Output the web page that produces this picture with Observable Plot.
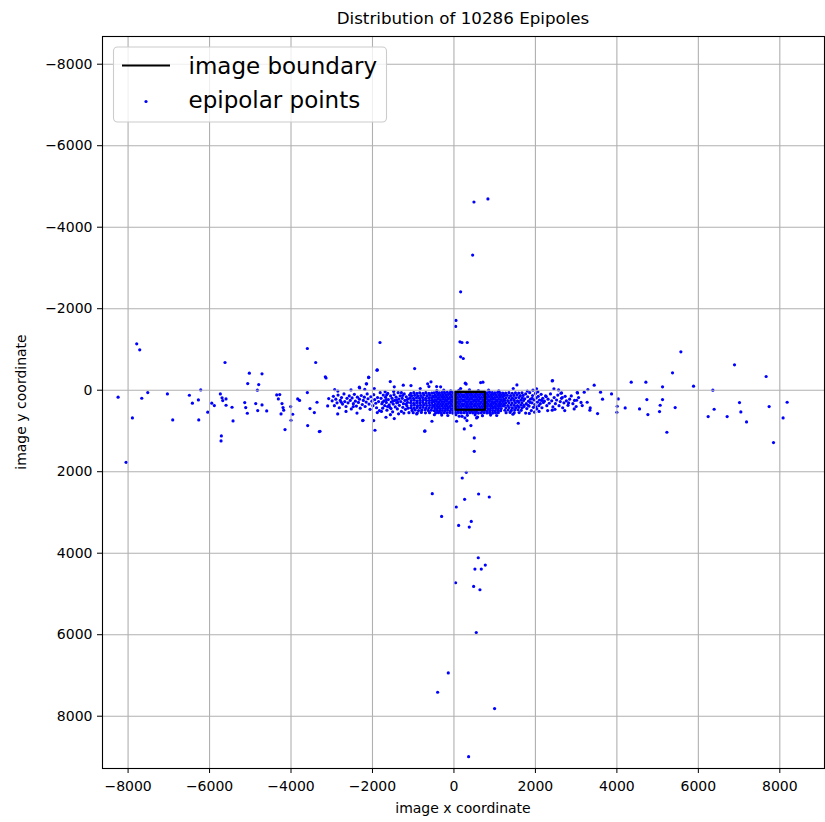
<!DOCTYPE html>
<html>
<head>
<meta charset="utf-8">
<script src="https://cdn.jsdelivr.net/npm/d3@7"></script>
<script src="https://cdn.jsdelivr.net/npm/@observablehq/plot@0.6"></script>
<style>
  body { margin: 0; background: white; }
  #wrap { position: relative; width: 825px; height: 822px; font-family: "DejaVu Sans", sans-serif; background: white; }
  #chart { position: absolute; left: 0; top: 35px; }
  #overlay { position: absolute; left: 0; top: 0; pointer-events: none; }
</style>
</head>
<body>
<div id="wrap">
  <div id="chart"></div>
  <svg id="overlay" width="825" height="822" xmlns="http://www.w3.org/2000/svg"></svg>
</div>
<script>
const titleText = "Distribution of 10286 Epipoles";
const xLabel = "image x coordinate";
const yLabel = "image y coordinate";
const legendLabels = ["image boundary", "epipolar points"];

const xTicks = [-8000, -6000, -4000, -2000, 0, 2000, 4000, 6000, 8000];
const yTicks = [-8000, -6000, -4000, -2000, 0, 2000, 4000, 6000, 8000];

// image boundary rectangle
const boundaryX = [40, 760, 760, 40, 40];
const boundaryY = [40, 40, 480, 480, 40];

// epipole positions [x, y]
const farLeft = [[-7788,-1138],[-7714,-990],[-8245,172],[-7664,197],[-7517,57],[-7894,680],[-8049,1769],[-7035,90],[-6904,729],[-6495,123],[-6421,319],[-6274,238],[-6216,-8],[-6265,729],[-6044,540],[-5946,319],[-5882,377],[-5735,90],[-5693,188],[-5676,254],[-5595,213],[-5595,369],[-5620,-680],[-5710,1122],[-5718,1245],[-5448,418],[-5423,754],[-5136,303],[-5112,426],[-5072,565],[-5063,-164],[-5023,-418],[-4866,328],[-4826,0],[-4793,-139],[-4712,-401],[-4712,361],[-4818,500],[-4597,508],[-4351,115],[-4277,107],[-4311,213],[-4221,328],[-4196,426],[-4180,491],[-4245,581],[-4147,966],[-4008,401],[-4000,737],[-3959,590],[-3836,213],[-3790,250],[-3599,-1024],[-3591,868],[-3394,-680],[-3305,1015],[-3599,57],[-3534,450],[-3427,548],[-3362,295],[-3158,-328],[-3140,-300],[-3100,385],[-3075,205],[-3288,1007]];

const nearLeft = [[-2990,260],[-2960,150],[-2935,380],[-2900,220],[-2870,310],[-2845,120],[-2815,430],[-2790,250],[-2760,180],[-2735,340],[-2700,90],[-2680,280],[-2650,400],[-2625,200],[-2600,310],[-2570,140],[-2545,250],[-2520,460],[-2500,190],[-2470,330],[-2445,100],[-2420,270],[-2395,390],[-2370,170],[-2345,300],[-2320,220],[-2300,440],[-2275,130],[-2250,350],[-2225,250],[-2200,170],[-2180,400],[-2155,290],[-2130,90],[-2110,210],[-2085,340],[-2060,470],[-2040,160],[-2015,270],[-1990,380],[-1970,110],[-1945,230],[-1920,320],[-1900,430],[-1875,180],[-1850,280],[-1830,500],[-1810,60],[-2650,520],[-2380,560],[-2190,-20],[-2850,20],[-2928,-16],[-2528,-8],[-2854,581],[-2765,295],[-2471,401],[-2315,-57],[-2233,737],[-2152,-156],[-2094,-311]];

const bandLeft = [[-1790,200],[-1770,330],[-1750,440],[-1735,120],[-1715,260],[-1700,380],[-1680,170],[-1660,300],[-1645,490],[-1625,80],[-1610,230],[-1590,360],[-1575,420],[-1555,140],[-1540,290],[-1520,200],[-1505,530],[-1490,340],[-1470,110],[-1455,250],[-1440,410],[-1420,170],[-1405,310],[-1390,460],[-1370,60],[-1355,220],[-1340,370],[-1320,140],[-1305,280],[-1290,520],[-1270,200],[-1255,420],[-1240,330],[-1220,90],[-1205,250],[-1190,470],[-1170,160],[-1155,380],[-1140,300],[-1120,210],[-1105,550],[-1090,120],[-1780,520],[-1690,40],[-1560,600],[-1480,30],[-1360,580],[-1230,560],[-1130,440],[-1660,230],[-1545,450],[-1410,240],[-1290,60],[-1180,340],[-1750,290],[-1630,400],[-1500,270],[-1380,300],[-1260,130],[-1150,230]];

const bandMidLeft = [[-1060,75],[-985,60],[-910,80],[-840,65],[-760,75],[-690,60],[-615,80],[-545,70],
[-1040,135],[-965,125],[-890,140],[-815,130],[-740,120],[-665,135],[-590,125],[-520,140],
[-1070,190],[-995,200],[-920,185],[-845,195],[-770,180],[-695,200],[-620,190],[-550,185],
[-1050,255],[-975,245],[-900,260],[-825,250],[-750,240],[-675,255],[-600,250],[-530,245],
[-1065,310],[-990,320],[-915,305],[-840,315],[-765,300],[-690,320],[-615,310],[-545,305],
[-1045,375],[-970,365],[-895,380],[-820,370],[-745,360],[-670,375],[-595,370],[-525,365],
[-1060,430],[-985,440],[-910,425],[-835,435],[-760,420],[-685,440],[-610,430],[-540,425],
[-1030,495],[-950,485],[-870,500],[-790,490],[-710,480],[-630,495],[-555,490],
[-1000,550],[-900,560],[-800,545],[-700,555],[-600,550]];

const core = [[-490,62],[-425,55],[-360,65],[-295,58],[-230,60],[-165,52],[-100,66],[-35,58],[30,55],[95,64],[160,58],[225,50],[290,62],[355,57],[420,65],[485,55],[550,60],[615,52],[680,63],[745,58],[810,66],[875,55],[940,60],[1005,65],[1070,56],[1135,62],[1200,70],
[-460,118],[-395,110],[-330,120],[-265,112],[-200,116],[-135,108],[-70,120],[-5,114],[60,110],[125,118],[190,112],[255,120],[320,110],[385,116],[450,112],[515,120],[580,114],[645,108],[710,118],[775,112],[840,120],[905,114],[970,110],[1035,118],[1100,112],[1165,120],[1230,115],
[-500,172],[-430,165],[-365,175],[-300,168],[-235,170],[-170,162],[-105,176],[-40,168],[25,165],[90,174],[155,168],[220,160],[285,172],[350,167],[415,175],[480,165],[545,170],[610,162],[675,173],[740,168],[805,176],[870,165],[935,170],[1000,175],[1065,166],[1130,172],[1195,168],
[-465,228],[-400,220],[-335,230],[-270,222],[-205,226],[-140,218],[-75,230],[-10,224],[55,220],[120,228],[185,222],[250,230],[315,220],[380,226],[445,222],[510,230],[575,224],[640,218],[705,228],[770,222],[835,230],[900,224],[965,220],[1030,228],[1095,222],[1160,230],[1225,226],
[-495,282],[-430,275],[-365,285],[-300,278],[-235,280],[-170,272],[-105,286],[-40,278],[25,275],[90,284],[155,278],[220,270],[285,282],[350,277],[415,285],[480,275],[545,280],[610,272],[675,283],[740,278],[805,286],[870,275],[935,280],[1000,285],[1065,276],[1130,282],[1195,278],
[-460,338],[-395,330],[-330,340],[-265,332],[-200,336],[-135,328],[-70,340],[-5,334],[60,330],[125,338],[190,332],[255,340],[320,330],[385,336],[450,332],[515,340],[580,334],[645,328],[710,338],[775,332],[840,340],[905,334],[970,330],[1035,338],[1100,332],[1165,340],[1230,336],
[-490,392],[-425,385],[-360,395],[-295,388],[-230,390],[-165,382],[-100,396],[-35,388],[30,385],[95,394],[160,388],[225,380],[290,392],[355,387],[420,395],[485,385],[550,390],[615,382],[680,393],[745,388],[810,396],[875,385],[940,390],[1005,395],[1070,386],[1135,392],[1200,388],
[-465,448],[-400,440],[-335,450],[-270,442],[-205,446],[-140,438],[-75,450],[-10,444],[55,440],[120,448],[185,442],[250,450],[315,440],[380,446],[445,442],[510,450],[575,444],[640,438],[705,448],[770,442],[835,450],[900,444],[965,440],[1030,448],[1095,442],[1160,450],
[-480,502],[-415,495],[-350,505],[-285,498],[-220,500],[-155,492],[-90,506],[-25,498],[40,495],[105,504],[170,498],[235,490],[300,502],[365,497],[430,505],[495,495],[560,500],[625,492],[690,503],[755,498],[820,506],[885,495],[950,500],[1015,505],[1080,496],[1145,502],
[-450,558],[-380,550],[-310,562],[-240,552],[-170,556],[-100,548],[-30,560],[40,554],[110,550],[180,558],[250,552],[320,560],[390,550],[460,556],[530,552],[600,560],[670,554],[740,548],[810,558],[880,552],[950,560],[1020,554],[1090,550],
[-420,10],[-250,0],[-80,15],[120,5],[380,-10],[600,10],[850,0],[1100,15],[-300,610],[-150,620],[50,600],[200,640],[330,615],[520,605],[700,625],[900,610],[1050,620],[-480,600],[270,680],[580,660]];

const bandRight = [[1270,70],[1350,60],[1430,75],[1510,65],[1590,70],[1670,62],
[1240,130],[1310,125],[1390,135],[1470,128],[1550,120],[1630,135],[1700,128],
[1275,190],[1355,185],[1435,195],[1515,188],[1595,180],[1680,192],
[1245,250],[1320,255],[1400,245],[1480,250],[1560,258],[1640,245],[1710,252],
[1270,310],[1350,305],[1430,315],[1510,308],[1590,300],[1670,312],
[1240,370],[1320,375],[1400,365],[1480,372],[1560,378],[1640,365],[1715,370],
[1275,430],[1355,425],[1435,435],[1515,428],[1595,420],[1675,432],
[1250,492],[1330,485],[1410,495],[1490,488],[1570,480],[1650,494],
[1280,550],[1380,545],[1480,555],[1600,548]];

const bandFarRight = [[1740,210],[1760,90],[1775,330],[1790,450],[1810,160],[1830,270],[1845,390],[1860,60],[1880,220],[1900,500],[1915,310],[1930,130],[1950,420],[1965,240],[1985,350],[2000,80],[2020,190],[2035,460],[2050,290],[2070,150],[2085,380],[2100,240],[2120,330],[2140,100],[2160,430],[2180,200],[2195,300],[1760,560],[1850,570],[1980,540],[2090,520],[1800,20],[1940,0],[2060,40],[1720,400],[1870,300],[2010,410],[2150,250],[1820,370],[1920,200],
[2220,270],[2250,140],[2280,380],[2310,220],[2340,320],[2370,90],[2400,260],[2430,410],[2460,180],[2490,330],[2520,240],[2550,120],[2580,380],[2610,280],[2640,200],[2670,430],[2700,310],[2730,150],[2760,260],[2800,370],[2840,220],[2880,140],[2920,330],[2960,250],[3000,400],[3060,180],[3120,300],[2300,500],[2480,470],[2720,500]];

const farRight = [[5571,-941],[6888,-622],[7664,-336],[8180,295],[8081,680],[7845,1285],[7738,401],[7183,778],[7043,533],[7010,303],[6707,647],[6356,0],[6388,467],[6241,647],[5882,-98],[5366,-426],[5431,426],[5227,1032],[5121,-82],[5121,229],[5063,369],[5047,524],[4712,-197],[4736,229],[4761,598],[4556,459],[4352,-197],[4204,434],[4033,213],[4008,393],[4000,541],[3869,90],[3648,221],[3599,49],[3526,573],[3443,-123],[3345,434],[3337,491],[3288,-16],[3271,295],[3198,49],[3149,377],[3026,57],[3010,246],[2952,459],[2814,311],[2626,74],[2659,180],[2569,-8],[2454,-33],[2421,-238],[2413,491],[2266,156],[2028,-33],[3034,66],[2642,66],[2413,-229]];

const nearOutliers = [[-1882,-499],[-965,-532],[-2094,-319],[-2143,-156],[-2323,-74],[-1956,-41],[-1563,-213],[-1465,-82],[-1244,-123],[-1055,-115],[-827,-41],[-646,-156],[-564,-205],[-614,-90],[-425,-90],[-327,-82],[-1652,115],[-2241,745],[-1971,745],[-1939,983],[-1882,548],[-1669,663],[-1465,696],[-712,999],[-720,1007],[-540,762],[-916,581],[-1890,-491],[-1816,-1171],[278,-172],[300,-150],[655,-188],[712,-197],[164,-41],[1456,-41],[1546,-131],[1579,811],[1448,590],[883,557],[254,950],[417,868],[319,745],[65,762],[131,639],[556,680]];

const upward = [[491,-4619],[834,-4693],[459,-3317],[164,-2415],[49,-1712],[42,-1565],[147,-1187],[196,-1171],[327,-1171],[164,-819],[229,-778]];

const downward = [[499,1171],[499,1499],[303,2015],[204,2154],[-532,2539],[605,2547],[867,2621],[262,2678],[57,2866],[-303,3096],[425,3219],[115,3317],[376,3358],[597,4111],[769,4292],[515,4390],[671,4390],[41,4725],[483,4816],[638,4897],[548,5946],[-139,6937],[-401,7412],[998,7813],[360,8993]];

const points = [].concat(farLeft, nearLeft, bandLeft, bandMidLeft, core, bandRight, bandFarRight, farRight, nearOutliers, upward, downward);
const boundary = boundaryX.map((x, i) => ({x, y: boundaryY[i]}));

const fmt = d => d < 0 ? "\u2212" + Math.abs(d) : String(d);

const chart = Plot.plot({
  width: 825,
  height: 787,
  marginTop: 1,
  marginBottom: 54,
  marginLeft: 102,
  marginRight: 1,
  style: {fontFamily: "DejaVu Sans", fontSize: "14px", color: "black", background: "white", overflow: "visible"},
  x: {domain: [-8628, 9097]},
  y: {domain: [-8680, 9283], reverse: true},
  marks: [
    Plot.dot(points, {x: d => d[0], y: d => d[1], r: 1.6, fill: "#0000ff"}),
    Plot.gridX(xTicks, {stroke: "#b0b0b0", strokeOpacity: 1, strokeWidth: 1.1}),
    Plot.gridY(yTicks, {stroke: "#b0b0b0", strokeOpacity: 1, strokeWidth: 1.1}),
    Plot.line(boundary, {x: "x", y: "y", stroke: "black", strokeWidth: 2.1}),
    Plot.axisX({ticks: xTicks, tickFormat: fmt, tickSize: 5, tickPadding: 8, label: null, fontSize: 14}),
    Plot.axisY({ticks: yTicks, tickFormat: fmt, tickSize: 5, tickPadding: 5, label: null, fontSize: 14}),
    Plot.frame({stroke: "black", strokeWidth: 1.1})
  ]
});
document.getElementById("chart").appendChild(chart);

// overlay texts and legend
const ov = d3.select("#overlay");
ov.append("text").attr("x", 463).attr("y", 24).attr("text-anchor", "middle")
  .attr("font-size", 16.7).attr("font-family", "DejaVu Sans").text(titleText);
ov.append("text").attr("x", 463).attr("y", 813).attr("text-anchor", "middle")
  .attr("font-size", 14).attr("font-family", "DejaVu Sans").text(xLabel);
ov.append("text").attr("transform", "translate(26,402) rotate(-90)").attr("text-anchor", "middle")
  .attr("font-size", 14).attr("font-family", "DejaVu Sans").text(yLabel);

const lg = ov.append("g");
lg.append("rect").attr("x", 113.5).attr("y", 47).attr("width", 273).attr("height", 75).attr("rx", 4)
  .attr("fill", "white").attr("fill-opacity", 0.8).attr("stroke", "#cccccc").attr("stroke-width", 1.1);
lg.append("line").attr("x1", 122).attr("x2", 170).attr("y1", 65.5).attr("y2", 65.5)
  .attr("stroke", "black").attr("stroke-width", 2.1);
lg.append("circle").attr("cx", 146).attr("cy", 101.5).attr("r", 1.6).attr("fill", "#0000ff");
lg.append("text").attr("x", 188.5).attr("y", 73.5).attr("font-size", 23).attr("font-family", "DejaVu Sans").text(legendLabels[0]);
lg.append("text").attr("x", 188.5).attr("y", 107.5).attr("font-size", 23).attr("font-family", "DejaVu Sans").text(legendLabels[1]);
</script>
</body>
</html>
